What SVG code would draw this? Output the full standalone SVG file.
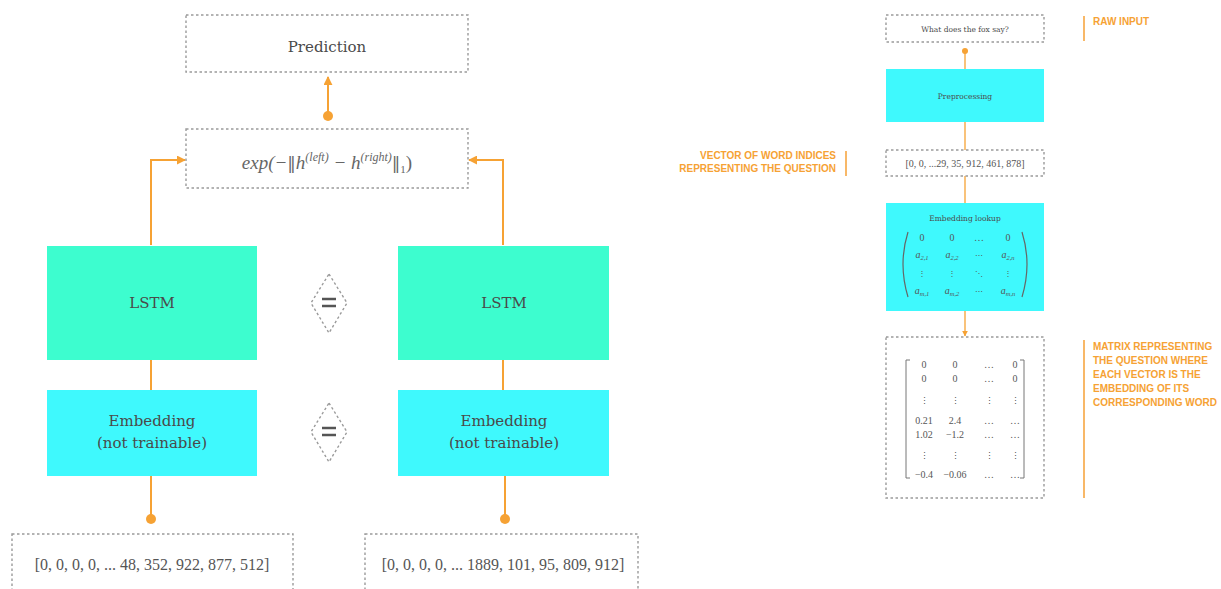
<svg xmlns="http://www.w3.org/2000/svg" width="1221" height="589" viewBox="0 0 1221 589">
  <defs>
    <marker id="arrow" viewBox="0 0 10 10" refX="9" refY="5" markerWidth="9" markerHeight="9" markerUnits="userSpaceOnUse" orient="auto">
      <path d="M0,0 L10,5 L0,10 z" fill="#f6a234"/>
    </marker>
    <marker id="arrowSmall" viewBox="0 0 10 10" refX="9" refY="5" markerWidth="6" markerHeight="6" markerUnits="userSpaceOnUse" orient="auto">
      <path d="M0,0 L10,5 L0,10 z" fill="#f6a234"/>
    </marker>
  </defs>
  <style>
    .dash { fill: #fff; stroke: #9a9a9a; stroke-width: 1.4; stroke-dasharray: 2.5 2.5; }
    .lstm { fill: #3dfdcf; }
    .cyan { fill: #3ff9fd; }
    .wire { fill: none; stroke: #f6a234; stroke-width: 2; }
    .wire-thin { fill: none; stroke: #f6a234; stroke-width: 1.3; }
    .dot { fill: #f6a234; }
    .lbl { font-family: "DejaVu Serif", "Liberation Serif", serif; fill: #4a4a4a; text-anchor: middle; }
    .num { font-family: "Liberation Serif", "DejaVu Serif", serif; fill: #555; text-anchor: middle; }
    .sym { font-family: "DejaVu Serif", serif; font-style: normal; }
    .math { font-family: "Liberation Serif", serif; font-style: italic; fill: #666; text-anchor: middle; }
    .note { font-family: "Liberation Sans", Arial, sans-serif; font-weight: bold; fill: #f6a234; font-size: 10px; }
    .eq { stroke: #555; stroke-width: 2.5; }
    .bar { stroke: #f8b868; stroke-width: 2; }
  </style>

  <!-- connectors -->
  <g id="connectors">
    <line class="wire" x1="328" y1="117" x2="328" y2="77" marker-end="url(#arrow)"/>
    <circle class="dot" cx="328" cy="116" r="5"/>
    <polyline class="wire" points="151,245 151,160 185,160" marker-end="url(#arrow)"/>
    <polyline class="wire" points="503,245 503,160 469,160" marker-end="url(#arrow)"/>
    <line class="wire" x1="151" y1="360" x2="151" y2="390"/>
    <line class="wire" x1="503" y1="360" x2="503" y2="390"/>
    <line class="wire" x1="151" y1="476" x2="151" y2="519"/>
    <circle class="dot" cx="151" cy="519" r="5"/>
    <line class="wire" x1="505" y1="476" x2="505" y2="519"/>
    <circle class="dot" cx="505" cy="519" r="5"/>
    <!-- right pipeline -->
    <line class="wire-thin" x1="965" y1="69" x2="965" y2="51"/>
    <circle class="dot" cx="965" cy="51" r="3"/>
    <line class="wire-thin" x1="965" y1="122" x2="965" y2="150"/>
    <line class="wire-thin" x1="965" y1="176" x2="965" y2="203"/>
    <line class="wire-thin" x1="965" y1="311" x2="965" y2="336" marker-end="url(#arrowSmall)"/>
  </g>

  <!-- left: siamese network -->
  <g id="prediction">
    <rect class="dash" x="186" y="15" width="282" height="57"/>
    <text class="lbl" x="327" y="52" font-size="15">Prediction</text>
  </g>

  <g id="distance">
    <rect class="dash" x="186" y="129" width="282" height="59"/>
    <text class="math" x="327" y="169" font-size="19">exp(−<tspan class="sym" font-size="17">‖</tspan>h<tspan font-size="12" dy="-8">(left)</tspan><tspan dy="8"> − h</tspan><tspan font-size="12" dy="-8">(right)</tspan><tspan class="sym" font-size="17" dy="8">‖</tspan><tspan font-size="11" font-style="normal" dy="4">1</tspan><tspan font-style="normal" dy="-4">)</tspan></text>
  </g>

  <g id="lstm-left">
    <rect class="lstm" x="47" y="246" width="210" height="114"/>
    <text class="lbl" x="152" y="308" font-size="15">LSTM</text>
  </g>
  <g id="lstm-right">
    <rect class="lstm" x="398" y="246" width="211" height="114"/>
    <text class="lbl" x="504" y="308" font-size="15">LSTM</text>
  </g>

  <g id="tie-lstm">
    <polygon class="dash" points="329,274 347,303 329,333 311,303"/>
    <line class="eq" x1="322" y1="299" x2="336" y2="299"/>
    <line class="eq" x1="322" y1="306" x2="336" y2="306"/>
  </g>
  <g id="tie-embedding">
    <polygon class="dash" points="329,403 347,432 329,462 311,432"/>
    <line class="eq" x1="322" y1="428" x2="336" y2="428"/>
    <line class="eq" x1="322" y1="435" x2="336" y2="435"/>
  </g>

  <g id="embedding-left">
    <rect class="cyan" x="47" y="390" width="210" height="86"/>
    <text class="lbl" x="152" y="426" font-size="15">Embedding</text>
    <text class="lbl" x="152" y="448" font-size="15">(not trainable)</text>
  </g>
  <g id="embedding-right">
    <rect class="cyan" x="398" y="390" width="211" height="86"/>
    <text class="lbl" x="504" y="426" font-size="15">Embedding</text>
    <text class="lbl" x="504" y="448" font-size="15">(not trainable)</text>
  </g>

  <g id="input-left">
    <rect class="dash" x="12" y="534" width="281" height="70"/>
    <text class="num" x="152" y="570" font-size="16">[0, 0, 0, 0, ... 48, 352, 922, 877, 512]</text>
  </g>
  <g id="input-right">
    <rect class="dash" x="365" y="534" width="273" height="70"/>
    <text class="num" x="503" y="570" font-size="16">[0, 0, 0, 0, ... 1889, 101, 95, 809, 912]</text>
  </g>

  <!-- right: preprocessing pipeline -->
  <g id="raw-input">
    <rect class="dash" x="886" y="15" width="158" height="27"/>
    <text class="lbl" x="965" y="32" font-size="7.5">What does the fox say?</text>
  </g>
  <g id="preprocessing">
    <rect class="cyan" x="886" y="69" width="158" height="53"/>
    <text class="lbl" x="965" y="99" font-size="7.5">Preprocessing</text>
  </g>
  <g id="word-indices">
    <rect class="dash" x="886" y="150" width="158" height="26"/>
    <text class="num" x="965" y="167" font-size="10">[0, 0, ...29, 35, 912, 461, 878]</text>
  </g>
  <g id="embedding-lookup">
    <rect class="cyan" x="886" y="203" width="158" height="108"/>
    <text class="lbl" x="965" y="221" font-size="7.5">Embedding lookup</text>
    <path d="M908,232 Q898,264 908,297" fill="none" stroke="#666" stroke-width="1.2"/>
    <path d="M1022,232 Q1032,264 1022,297" fill="none" stroke="#666" stroke-width="1.2"/>
    <g class="num" font-size="10" fill="#557">
      <text x="922" y="241">0</text><text x="952" y="241">0</text><text x="979" y="241">…</text><text x="1008" y="241">0</text>
      <text x="922" y="258" font-style="italic">a<tspan font-size="6.5" dy="2">2,1</tspan></text>
      <text x="952" y="258" font-style="italic">a<tspan font-size="6.5" dy="2">2,2</tspan></text>
      <text x="979" y="258" class="sym" font-size="8">⋯</text>
      <text x="1008" y="258" font-style="italic">a<tspan font-size="6.5" dy="2">2,n</tspan></text>
      <text x="922" y="276" class="sym" font-size="8">⋮</text><text x="952" y="276" class="sym" font-size="8">⋮</text><text x="979" y="276" class="sym" font-size="8">⋱</text><text x="1008" y="276" class="sym" font-size="8">⋮</text>
      <text x="922" y="294" font-style="italic">a<tspan font-size="6.5" dy="2">m,1</tspan></text>
      <text x="952" y="294" font-style="italic">a<tspan font-size="6.5" dy="2">m,2</tspan></text>
      <text x="979" y="294" class="sym" font-size="8">⋯</text>
      <text x="1008" y="294" font-style="italic">a<tspan font-size="6.5" dy="2">m,n</tspan></text>
    </g>
  </g>
  <g id="question-matrix">
    <rect class="dash" x="886" y="337" width="158" height="161"/>
    <path d="M910,360 L906,360 L906,478 L910,478" fill="none" stroke="#777" stroke-width="1"/>
    <path d="M1020,360 L1024,360 L1024,478 L1020,478" fill="none" stroke="#777" stroke-width="1"/>
    <g class="num" font-size="10">
      <text x="924" y="368">0</text><text x="955" y="368">0</text><text x="989" y="368">…</text><text x="1015" y="368">0</text>
      <text x="924" y="382">0</text><text x="955" y="382">0</text><text x="989" y="382">…</text><text x="1015" y="382">0</text>
      <g class="sym" font-size="9">
        <text x="924" y="404">⋮</text><text x="955" y="404">⋮</text><text x="989" y="404">⋮</text><text x="1015" y="404">⋮</text>
      </g>
      <text x="924" y="424">0.21</text><text x="955" y="424">2.4</text><text x="989" y="424">…</text><text x="1015" y="424">…</text>
      <text x="924" y="438">1.02</text><text x="955" y="438">−1.2</text><text x="989" y="438">…</text><text x="1015" y="438">…</text>
      <g class="sym" font-size="9">
        <text x="924" y="459">⋮</text><text x="955" y="459">⋮</text><text x="989" y="459">⋮</text><text x="1015" y="459">⋮</text>
      </g>
      <text x="924" y="478">−0.4</text><text x="955" y="478">−0.06</text><text x="989" y="478">…</text><text x="1015" y="478">…</text>
    </g>
  </g>

  <!-- annotations -->
  <g id="note-raw-input">
    <line class="bar" x1="1084" y1="16" x2="1084" y2="41"/>
    <text class="note" x="1093" y="25">RAW INPUT</text>
  </g>
  <g id="note-word-indices">
    <line class="bar" x1="846" y1="151" x2="846" y2="176"/>
    <text class="note" x="836" y="159" text-anchor="end">VECTOR OF WORD INDICES</text>
    <text class="note" x="836" y="172" text-anchor="end">REPRESENTING THE QUESTION</text>
  </g>
  <g id="note-matrix">
    <line class="bar" x1="1084" y1="340" x2="1084" y2="498"/>
    <text class="note" x="1093" y="350">MATRIX REPRESENTING</text>
    <text class="note" x="1093" y="364">THE QUESTION WHERE</text>
    <text class="note" x="1093" y="378">EACH VECTOR IS THE</text>
    <text class="note" x="1093" y="392">EMBEDDING OF ITS</text>
    <text class="note" x="1093" y="406">CORRESPONDING WORD</text>
  </g>
</svg>
